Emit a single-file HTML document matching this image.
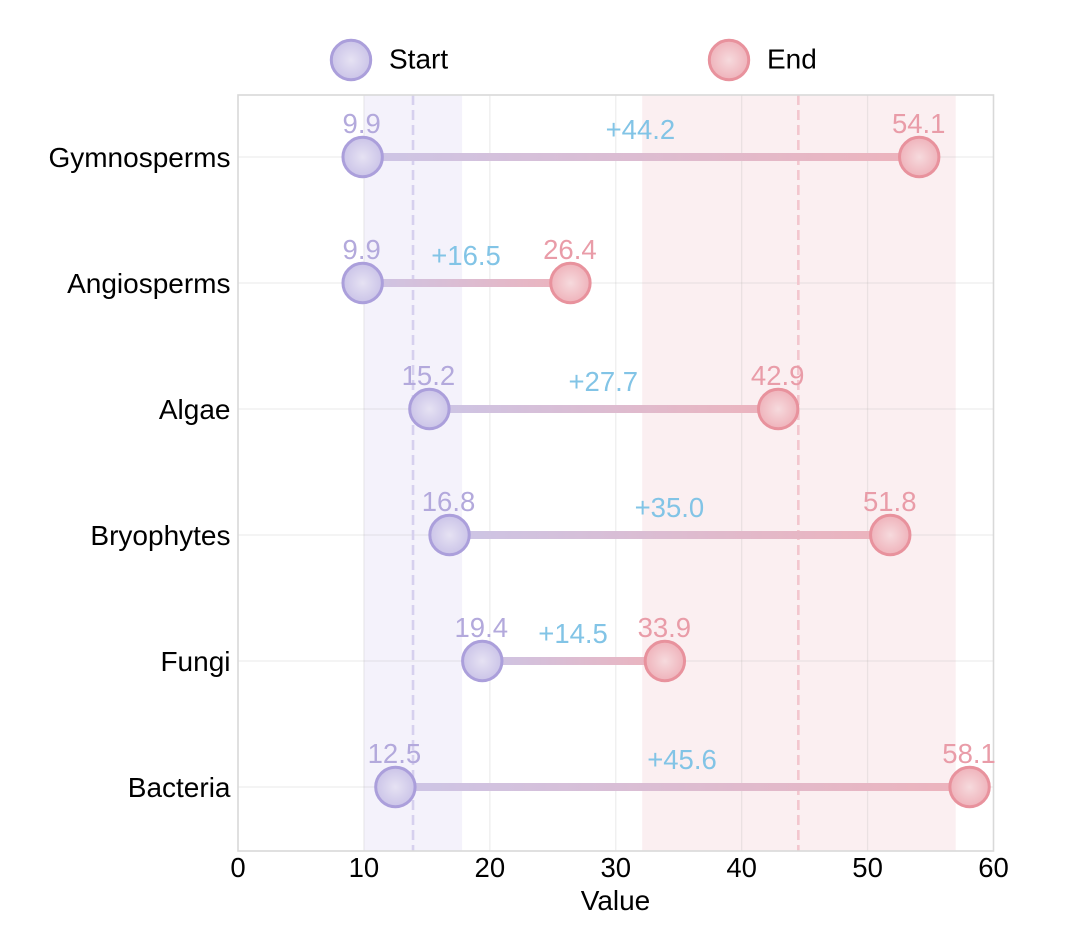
<!DOCTYPE html>
<html>
<head>
<meta charset="utf-8">
<style>
html,body{margin:0;padding:0;background:#fff}
svg{display:block;font-family:"Liberation Sans",Arial,sans-serif}
</style>
</head>
<body>
<svg id="chart" width="1080" height="945" viewBox="0 0 1080 945" xmlns="http://www.w3.org/2000/svg">
<defs>
<radialGradient id="gradStart"><stop offset="0" stop-color="#e6e2f3"/><stop offset="1" stop-color="#cbc4e8"/></radialGradient>
<radialGradient id="gradEnd"><stop offset="0" stop-color="#f6dadd"/><stop offset="1" stop-color="#efb3bb"/></radialGradient>
</defs>
</svg>
<script>
const categories = ['Gymnosperms','Angiosperms','Algae','Bryophytes','Fungi','Bacteria'];
const startValues = [9.9,9.9,15.2,16.8,19.4,12.5];
const endValues = [54.1,26.4,42.9,51.8,33.9,58.1];
const diffLabels = ['+44.2','+16.5','+27.7','+35.0','+14.5','+45.6'];
const xTicks = [0,10,20,30,40,50,60];
const startBand = [10,17.8];
const endBand = [32.1,57];
const startMean = 13.9;
const endMean = 44.5;

const svg = document.getElementById('chart');
const NS = 'http://www.w3.org/2000/svg';
const plot = {left:238, right:993.5, top:95, bottom:851};
const xMax = 60;
function xScale(v){ return plot.left + (plot.right - plot.left) * v / xMax; }
function yScale(i){ return 157 + 126 * i; }
function make(tag, attrs, text){
  const el = document.createElementNS(NS, tag);
  for (const k in attrs) el.setAttribute(k, attrs[k]);
  if (text !== undefined) el.textContent = text;
  svg.appendChild(el);
  return el;
}
const defs = svg.querySelector('defs');

// bands
let el = make('rect',{x:xScale(startBand[0]),y:plot.top,width:xScale(startBand[1])-xScale(startBand[0]),height:plot.bottom-plot.top,fill:'#f4f2fb'});


el = make('rect',{x:xScale(endBand[0]),y:plot.top,width:xScale(endBand[1])-xScale(endBand[0]),height:plot.bottom-plot.top,fill:'#fbeff1'});



// vertical grid
xTicks.forEach(t => {
  if (t === 0 || t === xMax) return;
  const g = make('line',{x1:xScale(t),x2:xScale(t),y1:plot.top,y2:plot.bottom,stroke:'#a8a8a8','stroke-opacity':0.2,'stroke-width':1.3});
  
  
});
// horizontal grid
categories.forEach((c,i) => {
  const g = make('line',{x1:plot.left,x2:plot.right,y1:yScale(i),y2:yScale(i),stroke:'#a8a8a8','stroke-opacity':0.2,'stroke-width':1.3});
  
  
});

// mean lines
el = make('line',{x1:xScale(startMean),x2:xScale(startMean),y1:plot.top,y2:plot.bottom,stroke:'#d6d0ee','stroke-width':2.6,'stroke-dasharray':'10 5'});


el = make('line',{x1:xScale(endMean),x2:xScale(endMean),y1:plot.top,y2:plot.bottom,stroke:'#f3c6ce','stroke-width':2.6,'stroke-dasharray':'10 5'});



// frame
el = make('rect',{x:plot.left,y:plot.top,width:plot.right-plot.left,height:plot.bottom-plot.top,fill:'none',stroke:'#d9d9d9','stroke-width':1.6});



// connectors
categories.forEach((c,i) => {
  const x1 = xScale(startValues[i]), x2 = xScale(endValues[i]), y = yScale(i);
  const gr = document.createElementNS(NS,'linearGradient');
  gr.setAttribute('id','conn'+i);
  gr.setAttribute('gradientUnits','userSpaceOnUse');
  gr.setAttribute('x1',x1); gr.setAttribute('x2',x2);
  gr.setAttribute('y1',y); gr.setAttribute('y2',y);
  [['0','#ccc5e6'],['1','#edb3bc']].forEach(s => {
    const st = document.createElementNS(NS,'stop');
    st.setAttribute('offset',s[0]); st.setAttribute('stop-color',s[1]);
    gr.appendChild(st);
  });
  defs.appendChild(gr);
  const r = make('rect',{x:x1,y:y-4,width:x2-x1,height:8,fill:'url(#conn'+i+')'});
  
  
});

// dots and labels
categories.forEach((c,i) => {
  const y = yScale(i);
  const xs = xScale(startValues[i]), xe = xScale(endValues[i]);
  let n = make('circle',{cx:xs,cy:y,r:19.7,fill:'url(#gradStart)',stroke:'#ab9fdb','stroke-width':3});
  
  
  n = make('circle',{cx:xe,cy:y,r:19.7,fill:'url(#gradEnd)',stroke:'#e8929d','stroke-width':3});
  
  
  n = make('text',{x:xs-1,y:y-24,'text-anchor':'middle','font-size':27.5,fill:'#b3a9dc'},startValues[i].toFixed(1));
  
  
  n = make('text',{x:xe-0.5,y:y-24,'text-anchor':'middle','font-size':27.5,fill:'#e99ca8'},endValues[i].toFixed(1));
  
  
  n = make('text',{x:(xs+xe)/2-0.5,y:y-18,'text-anchor':'middle','font-size':27.5,fill:'#82c4e6'},diffLabels[i]);
  
  
  n = make('text',{x:230.5,y:y+10,'text-anchor':'end','font-size':28,fill:'#000'},c);
  
  
});

// x ticks
xTicks.forEach(t => {
  const n = make('text',{x:xScale(t),y:877,'text-anchor':'middle','font-size':27.5,fill:'#000'},String(t));
  
  
});
el = make('text',{x:615.5,y:910,'text-anchor':'middle','font-size':28,fill:'#000'},'Value');



// legend
el = make('circle',{cx:351,cy:60,r:19.7,fill:'url(#gradStart)',stroke:'#ab9fdb','stroke-width':3});


el = make('text',{x:389,y:68.5,'font-size':28,fill:'#000'},'Start');


el = make('circle',{cx:729,cy:60,r:19.7,fill:'url(#gradEnd)',stroke:'#e8929d','stroke-width':3});


el = make('text',{x:767,y:68.5,'font-size':28,fill:'#000'},'End');


</script>
</body>
</html>
